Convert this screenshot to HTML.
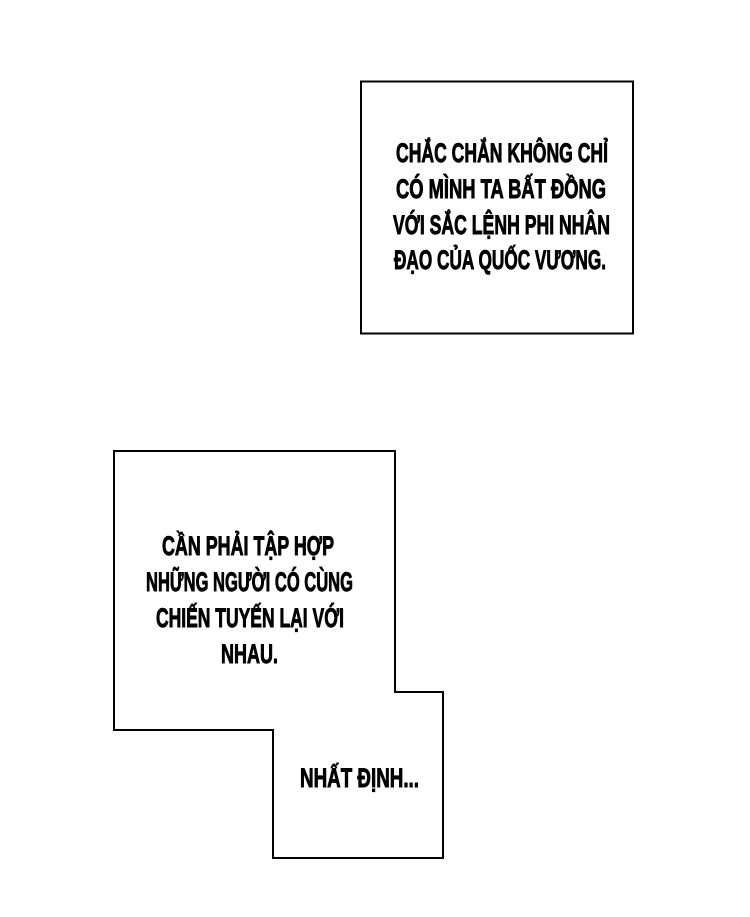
<!DOCTYPE html>
<html><head><meta charset="utf-8"><style>
html,body{margin:0;padding:0;background:#fff;}
svg{display:block}
text{font-family:"Liberation Sans Narrow","Liberation Sans",sans-serif;font-weight:bold;font-size:27px;fill:#000;stroke:#000;stroke-width:0.9px;}
</style></head><body>
<svg width="750" height="917" viewBox="0 0 750 917" xmlns="http://www.w3.org/2000/svg">
<rect x="0" y="0" width="750" height="917" fill="#fff"/>
<rect x="361" y="81.5" width="272" height="252" fill="#fff" stroke="#000" stroke-width="2"/>
<polygon points="114,451 395,451 395,692 443,692 443,858 273,858 273,730 114,730" fill="#fff" stroke="#000" stroke-width="2"/>
<text x="396" y="162" textLength="212" lengthAdjust="spacingAndGlyphs">CHẮC CHẮN KHÔNG CHỈ</text>
<text x="396" y="198" textLength="210" lengthAdjust="spacingAndGlyphs">CÓ MÌNH TA BẤT ĐỒNG</text>
<text x="393" y="234" textLength="217" lengthAdjust="spacingAndGlyphs">VỚI SẮC LỆNH PHI NHÂN</text>
<text x="394" y="269" textLength="212" lengthAdjust="spacingAndGlyphs">ĐẠO CỦA QUỐC VƯƠNG.</text>
<text x="162" y="555" textLength="172" lengthAdjust="spacingAndGlyphs">CẦN PHẢI TẬP HỢP</text>
<text x="146" y="591" textLength="207" lengthAdjust="spacingAndGlyphs">NHỮNG NGƯỜI CÓ CÙNG</text>
<text x="156" y="627" textLength="188" lengthAdjust="spacingAndGlyphs">CHIẾN TUYẾN LẠI VỚI</text>
<text x="221" y="663" textLength="57" lengthAdjust="spacingAndGlyphs">NHAU.</text>
<text x="300" y="787" textLength="119" lengthAdjust="spacingAndGlyphs">NHẤT ĐỊNH...</text>
</svg>
</body></html>
